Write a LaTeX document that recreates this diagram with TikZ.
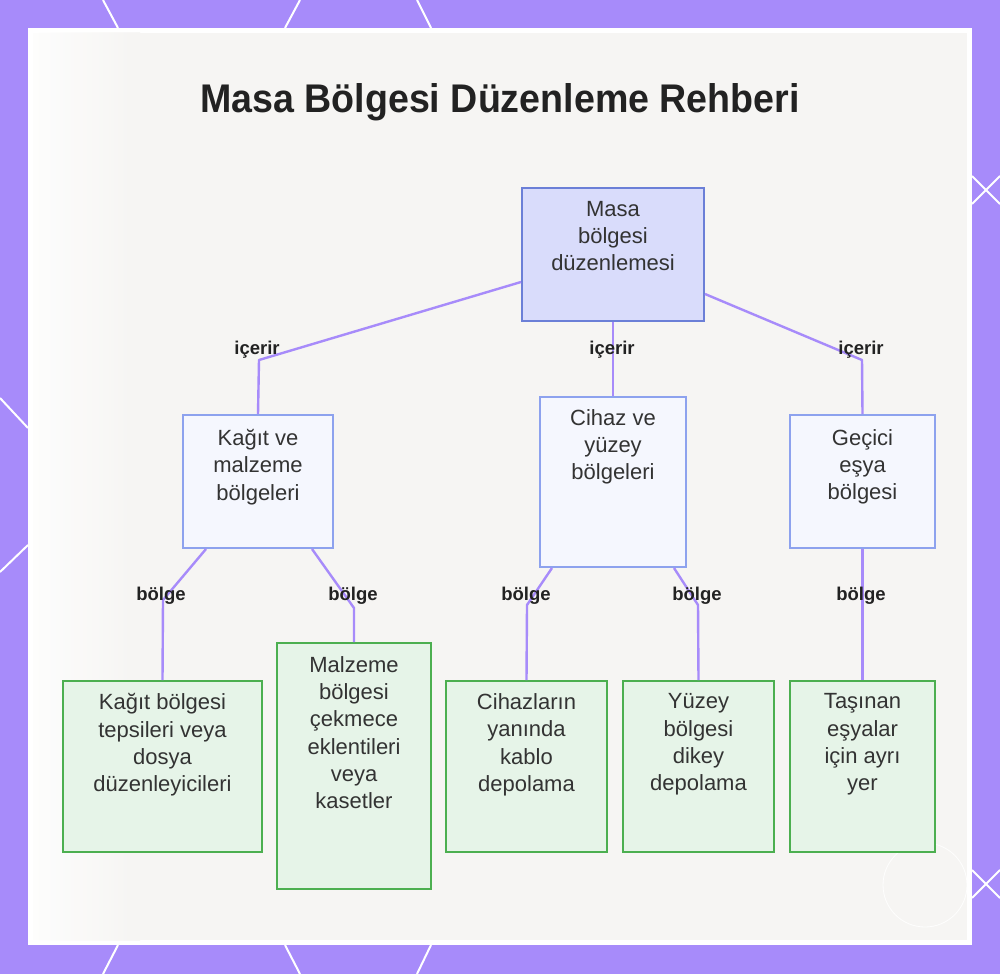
\documentclass[tikz,border=0pt]{standalone}
\usepackage{fontspec}
\setmainfont{Liberation Sans}
\usetikzlibrary{calc}
\definecolor{bgpurple}{HTML}{A78BFA}
\definecolor{panelbg}{HTML}{F6F5F3}
\definecolor{connc}{HTML}{A78BFA}
\definecolor{rootfill}{HTML}{D9DCFB}
\definecolor{rootdraw}{HTML}{6B7FD7}
\definecolor{midfill}{HTML}{F5F7FE}
\definecolor{middraw}{HTML}{8DA2EE}
\definecolor{leaffill}{HTML}{E6F4E8}
\definecolor{leafdraw}{HTML}{4CAF50}
\definecolor{txt}{HTML}{333333}
\definecolor{ttl}{HTML}{222222}
\tikzset{
  box/.style={rectangle, line width=2pt, inner sep=0pt},
  rootbox/.style={box, fill=rootfill, draw=rootdraw},
  midbox/.style={box, fill=midfill, draw=middraw},
  leafbox/.style={box, fill=leaffill, draw=leafdraw},
  boxtext/.style={anchor=north, align=center, inner sep=0pt, text=txt,
    font=\fontsize{22}{27.3}\selectfont},
  conn/.style={draw=connc, line width=2.4pt, line join=round},
  elabel/.style={font=\bfseries\fontsize{18.5}{20}\selectfont, text=ttl, inner sep=0pt},
  deco/.style={draw=white, line width=2pt},
}
\begin{document}
\begin{tikzpicture}[x=1pt,y=-1pt]
\useasboundingbox (0,0) rectangle (1000,974);
% frame
\fill[bgpurple] (0,0) rectangle (1000,974);
\draw[deco] (103,0) -- (118,28);
\draw[deco] (300,0) -- (285,28);
\draw[deco] (417,0) -- (431,28);
\draw[deco] (118,945) -- (103,974);
\draw[deco] (285,945) -- (300,974);
\draw[deco] (431,945) -- (417,974);
\draw[deco] (0,398) -- (28,428);
\draw[deco] (28,545) -- (0,572);
\draw[deco] (972,176) -- (1000,204);
\draw[deco] (972,204) -- (1000,176);
\draw[deco] (972,870) -- (1000,898);
\draw[deco] (972,898) -- (1000,870);
\fill[white] (28,28) rectangle (972,945);
\fill[panelbg] (33,33) rectangle (967,940);
\shade[left color=white, right color=panelbg, opacity=0.8] (33,33) rectangle (140,940);
% watermark
\draw[white, line width=0.8pt, opacity=0.9] (925,885) circle (42);
% title
\node[font=\bfseries\fontsize{40}{44}\selectfont, text=ttl, inner sep=0pt] (title) at (500,102) {\scalebox{0.94}[1]{Masa Bölgesi Düzenleme Rehberi}};
% boxes
\node[rootbox, minimum width=182pt, minimum height=133pt] (root) at (613,254.5) {};
\node[midbox, minimum width=150pt, minimum height=133pt] (A) at (258,481.5) {};
\node[midbox, minimum width=146pt, minimum height=170pt] (B) at (613,482) {};
\node[midbox, minimum width=145pt, minimum height=133pt] (C) at (862.5,481.5) {};
\node[leafbox, minimum width=199pt, minimum height=171pt] (D) at (162.5,766.5) {};
\node[leafbox, minimum width=154pt, minimum height=246pt] (E) at (354,766) {};
\node[leafbox, minimum width=161pt, minimum height=171pt] (F) at (526.5,766.5) {};
\node[leafbox, minimum width=151pt, minimum height=171pt] (G) at (698.5,766.5) {};
\node[leafbox, minimum width=145pt, minimum height=171pt] (H) at (862.5,766.5) {};
% box texts
\node[boxtext] (troot) at ([yshift=-14pt]root.north) {Masa\\bölgesi\\düzenlemesi};
\node[boxtext] (tA) at ([yshift=-15pt]A.north) {Kağıt ve\\malzeme\\bölgeleri};
\node[boxtext] (tB) at ([yshift=-13pt]B.north) {Cihaz ve\\yüzey\\bölgeleri};
\node[boxtext] (tC) at ([yshift=-15pt]C.north) {Geçici\\eşya\\bölgesi};
\node[boxtext] (tD) at ([yshift=-13.5pt]D.north) {Kağıt bölgesi\\tepsileri veya\\dosya\\düzenleyicileri};
\node[boxtext] (tE) at ([yshift=-14pt]E.north) {Malzeme\\bölgesi\\çekmece\\eklentileri\\veya\\kasetler};
\node[boxtext] (tF) at ([yshift=-13.5pt]F.north) {Cihazların\\yanında\\kablo\\depolama};
\node[boxtext] (tG) at ([yshift=-13.5pt]G.north) {Yüzey\\bölgesi\\dikey\\depolama};
\node[boxtext] (tH) at ([yshift=-13.5pt]H.north) {Taşınan\\eşyalar\\için ayrı\\yer};
% bend points
\coordinate (kA) at (259,360);
\coordinate (kC) at (862,360);
\coordinate (kD) at (163,600);
\coordinate (kE) at (354,608);
\coordinate (kF) at (527,605);
\coordinate (kG) at (698,605);
% connectors
\draw[conn] ([yshift=40pt]root.south west) -- (kA) -- (A.north);
\draw[conn] (root.south) -- (B.north);
\draw[conn] ([yshift=28pt]root.south east) -- (kC) -- (C.north);
\draw[conn] ([xshift=24pt]A.south west) -- (kD) -- (D.north);
\draw[conn] ([xshift=-22pt]A.south east) -- (kE) -- (E.north);
\draw[conn] ([xshift=13pt]B.south west) -- (kF) -- (F.north);
\draw[conn] ([xshift=-13pt]B.south east) -- (kG) -- (G.north);
\draw[conn] (C.south) -- (H.north);
% edge labels
\node[elabel] (l1) at (257,350) {içerir};
\node[elabel] (l2) at (612,350) {içerir};
\node[elabel] (l3) at (861,350) {içerir};
\node[elabel] (l4) at (161,596) {bölge};
\node[elabel] (l5) at (353,596) {bölge};
\node[elabel] (l6) at (526,596) {bölge};
\node[elabel] (l7) at (697,596) {bölge};
\node[elabel] (l8) at (861,596) {bölge};
\end{tikzpicture}
\end{document}
